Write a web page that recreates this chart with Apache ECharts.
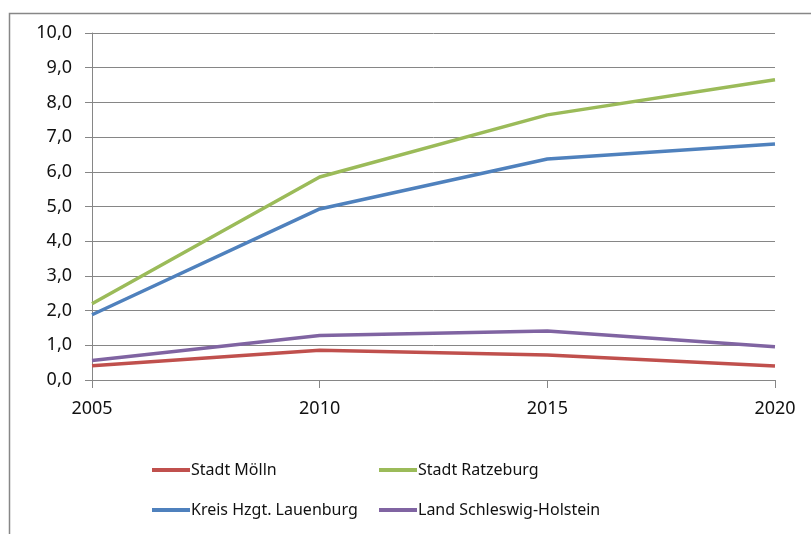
<!DOCTYPE html>
<html>
<head>
<meta charset="utf-8">
<script src="https://cdn.jsdelivr.net/npm/echarts@6/dist/echarts.min.js"></script>
<style>
  html, body { margin: 0; padding: 0; background: #fff; }
  #chart { width: 811px; height: 534px; }
</style>
</head>
<body>
<div id="chart"></div>
<script>
// Jahre (x-Achse)
const years = [2005, 2010, 2015, 2020]
const moelln = [0.41, 0.86, 0.72, 0.40]
const ratzeburg = [2.20, 5.85, 7.64, 8.65]
const kreis = [1.88, 4.93, 6.37, 6.80]
const land = [0.56, 1.28, 1.41, 0.96]
const seriesNames = ['Stadt Mölln', 'Stadt Ratzeburg', 'Kreis Hzgt. Lauenburg', 'Land Schleswig-Holstein']
const seriesColors = ['#C0504D', '#9BBB59', '#4F81BD', '#8064A2']

const font = 'Noto Sans'
const pairs = arr => years.map((y, i) => [y, arr[i]])

const makeSeries = (name, arr, color) => ({
  name: name,
  type: 'line',
  data: pairs(arr),
  symbol: 'none',
  lineStyle: { width: 3.5, color: color },
  itemStyle: { color: color }
})

// Legende: 2 x 2, je ein Eintrag pro legend-Komponente
const legendPos = [[152, 462], [379, 462], [152, 502], [379, 502]]
const legends = seriesNames.map((n, i) => ({
  data: [n],
  left: legendPos[i][0],
  top: legendPos[i][1],
  icon: 'rect',
  itemWidth: 38,
  itemHeight: 4,
  itemGap: 0,
  padding: 0,
  selectedMode: false,
  textStyle: { fontFamily: font, fontSize: 16, color: '#111', padding: [0, 0, 0, -4] }
}))

const chart = echarts.init(document.getElementById('chart'))
chart.setOption({
  animation: false,
  backgroundColor: '#fff',
  graphic: [{
    type: 'rect',
    shape: { x: 9.5, y: 13.5, width: 900, height: 600 },
    style: { fill: 'none', stroke: '#878787', lineWidth: 1.5 }
  }],
  grid: { left: 92, right: 36, top: 33, bottom: 154 },
  legend: legends,
  xAxis: {
    type: 'value',
    min: 2005,
    max: 2020,
    interval: 5,
    axisLine: { show: true, lineStyle: { color: '#868686' } },
    axisTick: { show: true, length: 8, lineStyle: { color: '#868686' } },
    splitLine: { show: false },
    axisLabel: { fontFamily: font, fontSize: 18, color: '#111', margin: 20, formatter: v => String(v) }
  },
  yAxis: {
    type: 'value',
    min: 0,
    max: 10,
    interval: 1,
    axisLine: { show: true, lineStyle: { color: '#868686' } },
    axisTick: { show: true, length: 7, lineStyle: { color: '#868686' } },
    splitLine: { lineStyle: { color: '#868686', width: 1 } },
    axisLabel: { fontFamily: font, fontSize: 18, color: '#111', margin: 20, formatter: v => v.toFixed(1).replace('.', ',') }
  },
  series: [
    makeSeries(seriesNames[0], moelln, seriesColors[0]),
    makeSeries(seriesNames[1], ratzeburg, seriesColors[1]),
    makeSeries(seriesNames[2], kreis, seriesColors[2]),
    makeSeries(seriesNames[3], land, seriesColors[3])
  ]
})
</script>
</body>
</html>
